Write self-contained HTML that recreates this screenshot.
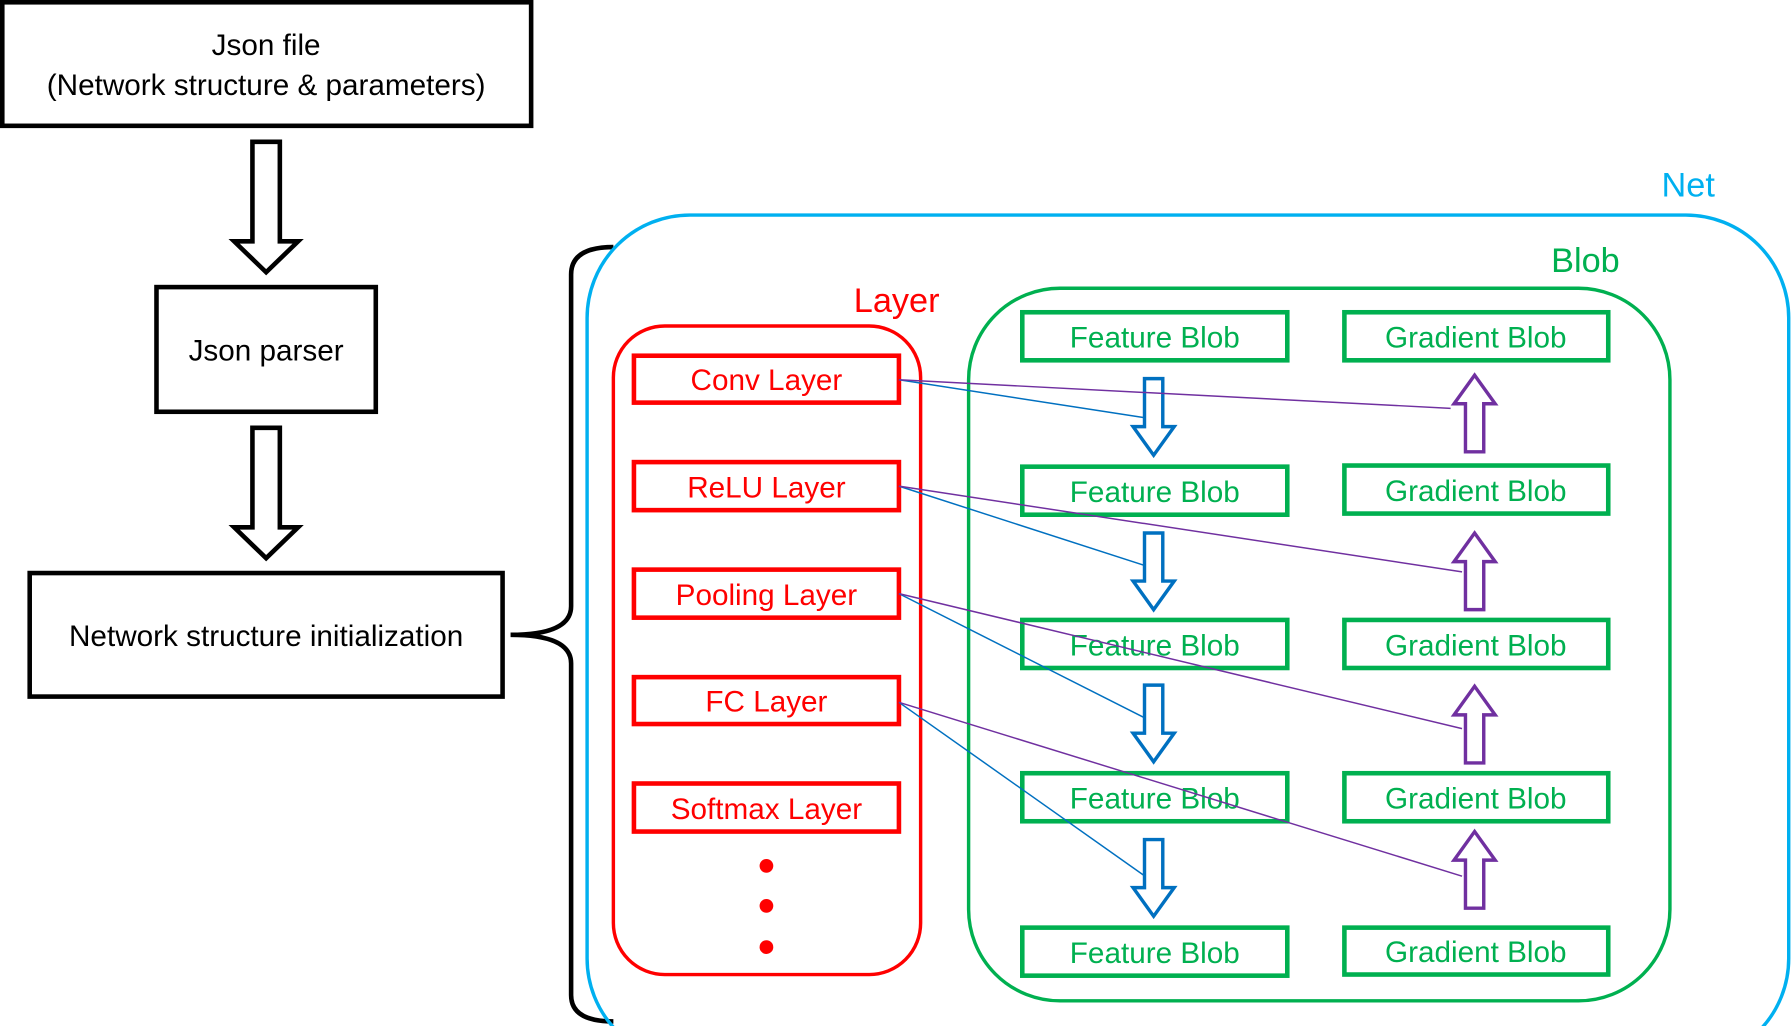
<!DOCTYPE html>
<html><head><meta charset="utf-8"><style>
html,body{margin:0;padding:0;background:#fff;}
svg{display:block;}
text{font-family:"Liberation Sans","Noto Sans CJK SC",sans-serif;}
</style></head><body>
<svg width="1791" height="1026" viewBox="0 0 1568 897" preserveAspectRatio="none" xmlns="http://www.w3.org/2000/svg">
<defs>
<g id="darr"><path d="M-12,0 H12 V87 H28 L0,114 L-28,87 H-12 Z" fill="#fff" stroke="#000" stroke-width="4"/></g>
<g id="barr"><path d="M-8,0 H8 V42 H18 L0,67 L-18,42 H-8 Z" fill="#fff" stroke="#0070c0" stroke-width="3"/></g>
<g id="parr"><path d="M-8,67 H8 V25 H18 L0,0 L-18,25 H-8 Z" fill="#fff" stroke="#7030a0" stroke-width="3"/></g>
</defs>
<!-- left column -->
<rect x="2" y="2" width="463" height="108" fill="none" stroke="#000" stroke-width="4"/>
<text x="233" y="48" font-size="26" text-anchor="middle">Json file</text>
<text x="233" y="83" font-size="26" text-anchor="middle">(Network structure &amp; parameters)</text>
<use href="#darr" x="233" y="124"/>
<rect x="137" y="251" width="192" height="109" fill="none" stroke="#000" stroke-width="4"/>
<text x="233" y="315" font-size="26" text-anchor="middle">Json parser</text>
<use href="#darr" x="233" y="374"/>
<rect x="26" y="501" width="414" height="108" fill="none" stroke="#000" stroke-width="4"/>
<text x="233" y="565" font-size="26" text-anchor="middle">Network structure initialization</text>
<!-- brace -->
<path d="M537,216 Q500,216 500,240 V530 Q500,555 447,555 Q500,555 500,580 V870 Q500,893 537,893" fill="none" stroke="#000" stroke-width="4"/>
<!-- Net -->
<rect x="514" y="188" width="1052" height="740" rx="90" fill="none" stroke="#00b0f0" stroke-width="3"/>
<text x="1478" y="172" font-size="30" fill="#00b0f0" text-anchor="middle">Net</text>
<!-- Blob -->
<rect x="848" y="252" width="614" height="623" rx="80" fill="none" stroke="#00b050" stroke-width="3"/>
<text x="1388" y="238" font-size="30" fill="#00b050" text-anchor="middle">Blob</text>
<!-- Layer -->
<rect x="537" y="285" width="269" height="567" rx="45" fill="none" stroke="#ff0000" stroke-width="3"/>
<text x="785" y="273" font-size="30" fill="#ff0000" text-anchor="middle">Layer</text>
<g fill="#fff" stroke="#ff0000" stroke-width="4">
<rect x="555" y="311" width="232" height="41"/>
<rect x="555" y="404" width="232" height="42"/>
<rect x="555" y="498" width="232" height="42"/>
<rect x="555" y="592" width="232" height="41"/>
<rect x="555" y="685" width="232" height="42"/>
</g>
<g font-size="26" fill="#ff0000" text-anchor="middle">
<text x="671" y="341">Conv Layer</text>
<text x="671" y="435">ReLU Layer</text>
<text x="671" y="529">Pooling Layer</text>
<text x="671" y="622">FC Layer</text>
<text x="671" y="716">Softmax Layer</text>
</g>
<g fill="#ff0000"><circle cx="671" cy="757" r="6"/><circle cx="671" cy="792" r="6"/><circle cx="671" cy="828" r="6"/></g>
<!-- blobs -->
<g fill="#fff" stroke="#00b050" stroke-width="4">
<rect x="895" y="273" width="232" height="42"/><rect x="895" y="408" width="232" height="42"/><rect x="895" y="542" width="232" height="42"/><rect x="895" y="676" width="232" height="42"/><rect x="895" y="811" width="232" height="42"/>
<rect x="1177" y="273" width="231" height="42"/><rect x="1177" y="407" width="231" height="42"/><rect x="1177" y="542" width="231" height="42"/><rect x="1177" y="676" width="231" height="42"/><rect x="1177" y="811" width="231" height="41"/>
</g>
<use href="#barr" x="1010" y="331"/><use href="#barr" x="1010" y="466"/><use href="#barr" x="1010" y="599"/><use href="#barr" x="1010" y="734"/>
<use href="#parr" x="1291" y="328"/><use href="#parr" x="1291" y="466"/><use href="#parr" x="1291" y="600"/><use href="#parr" x="1291" y="727"/>
<g font-size="26" fill="#00b050" text-anchor="middle">
<text x="1011" y="304">Feature Blob</text><text x="1011" y="439">Feature Blob</text><text x="1011" y="573">Feature Blob</text><text x="1011" y="707">Feature Blob</text><text x="1011" y="842">Feature Blob</text>
<text x="1292" y="304">Gradient Blob</text><text x="1292" y="438">Gradient Blob</text><text x="1292" y="573">Gradient Blob</text><text x="1292" y="707">Gradient Blob</text><text x="1292" y="841">Gradient Blob</text>
</g>
<!-- connectors -->
<g stroke="#0070c0" stroke-width="1.3">
<line x1="787" y1="332" x2="1001" y2="365"/>
<line x1="787" y1="425" x2="1001" y2="494"/>
<line x1="787" y1="519" x2="1001" y2="627"/>
<line x1="787" y1="614" x2="1001" y2="765"/>
</g>
<g stroke="#7030a0" stroke-width="1.3">
<line x1="787" y1="332" x2="1270" y2="357"/>
<line x1="787" y1="425" x2="1280" y2="500"/>
<line x1="787" y1="519" x2="1280" y2="637"/>
<line x1="787" y1="614" x2="1280" y2="766"/>
</g>
</svg>
</body></html>
